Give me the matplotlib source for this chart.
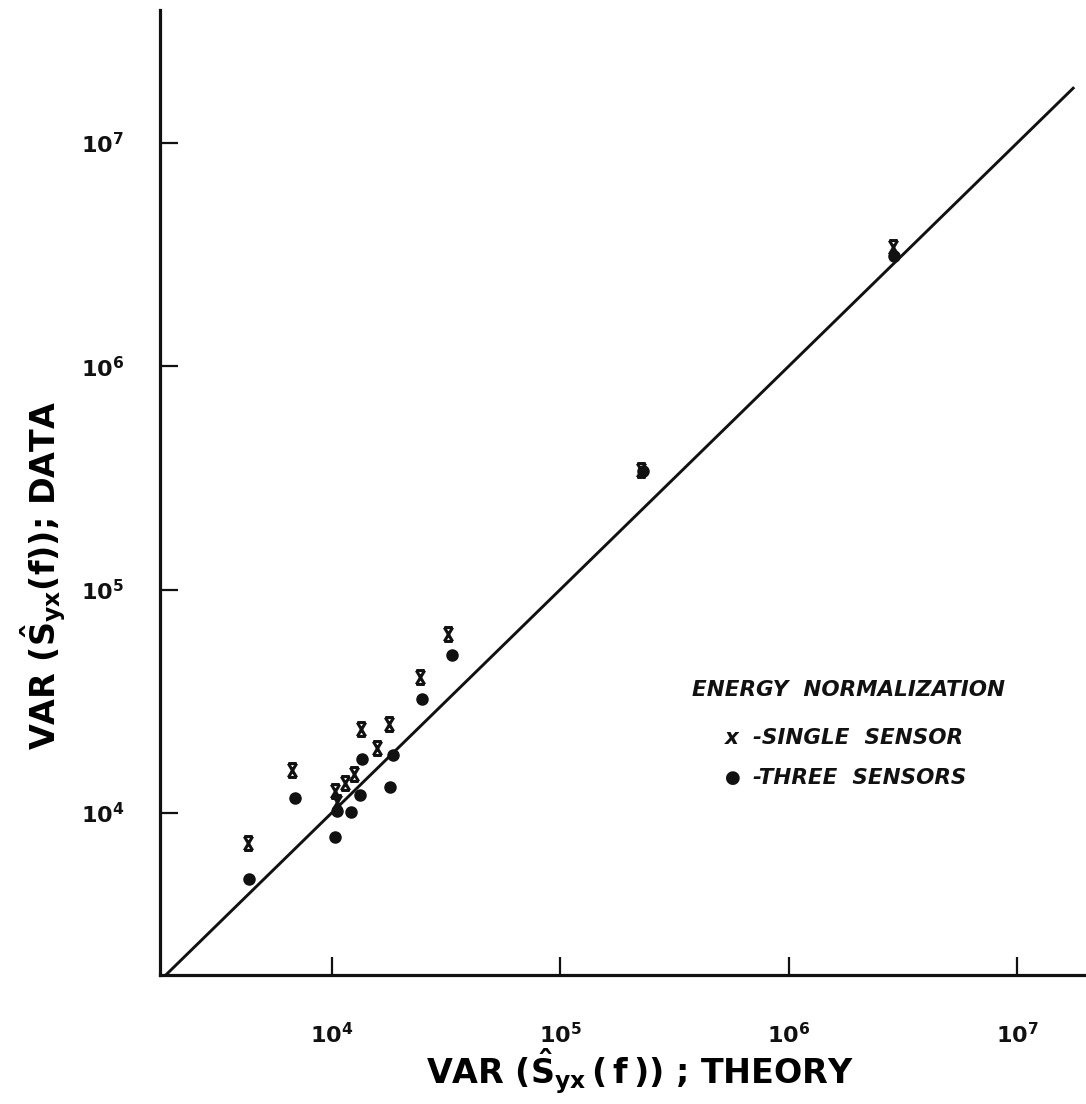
"""Log-log comparison of measured vs theoretical cross-spectrum variance."""

import matplotlib

matplotlib.use("Agg")
import matplotlib.pyplot as plt
from matplotlib.path import Path
from matplotlib.ticker import FixedLocator, FixedFormatter, NullLocator

# theory (x) vs data (y) variance, energy normalization
SINGLE_X = [4315, 6725, 10340, 10520, 11440, 12560, 13440, 15740, 17820, 24360, 32400, 227000, 2.88e6]
SINGLE_Y = [7310, 15580, 12550, 11240, 13670, 14950, 23700, 19610, 25040, 40520, 63130, 344000, 3.43e6]
THREE_X = [4345, 6930, 10300, 10520, 12110, 13300, 13530, 18500, 18060, 24770, 33530, 230000, 2.90e6]
THREE_Y = [5045, 11710, 7784, 10210, 10070, 12080, 17510, 18240, 13120, 32300, 51000, 340000, 3.12e6]
EQUALITY = [1.78e3, 1.78e7]

TICKS = [1e4, 1e5, 1e6, 1e7]
TICK_LABELS = [r"$\mathbf{10^{4}}$", r"$\mathbf{10^{5}}$", r"$\mathbf{10^{6}}$", r"$\mathbf{10^{7}}$"]

INK = "#111111"

plt.rcParams.update({
    "font.family": "DejaVu Sans",
    "font.weight": "bold",
    "mathtext.fontset": "dejavusans",
    "mathtext.default": "bf",
    "text.color": INK,
    "axes.edgecolor": INK,
})

# x drawn as a lettering-style cross with flat caps
cross = Path(
    [(-0.6, 1), (0.6, -1), (0.6, 1), (-0.6, -1), (-0.6, 1), (0.6, 1), (-0.6, -1), (0.6, -1)],
    [Path.MOVETO, Path.LINETO, Path.MOVETO, Path.LINETO,
     Path.MOVETO, Path.LINETO, Path.MOVETO, Path.LINETO],
)

fig = plt.figure(figsize=(10.86, 11.04), dpi=100)
ax = fig.add_axes([160 / 1086, 129 / 1104, 926 / 1086, 965 / 1104])
ax.set_xscale("log")
ax.set_yscale("log")
ax.set_xlim(10 ** 3.249, 10 ** 7.302)
ax.set_ylim(10 ** 3.2745, 10 ** 7.596)

ax.plot(EQUALITY, EQUALITY, color=INK, lw=2.1, solid_capstyle="butt", zorder=2)
ax.plot(THREE_X, THREE_Y, ls="none", marker="o", ms=8, color=INK, mec=INK, zorder=3)
ax.plot(SINGLE_X, SINGLE_Y, ls="none", marker=cross, ms=10, mew=2.2, color=INK, zorder=4)

for side in ("top", "right"):
    ax.spines[side].set_visible(False)
for side in ("left", "bottom"):
    ax.spines[side].set_linewidth(2.3)

ax.xaxis.set_major_locator(FixedLocator(TICKS))
ax.xaxis.set_major_formatter(FixedFormatter(TICK_LABELS))
ax.yaxis.set_major_locator(FixedLocator(TICKS))
ax.yaxis.set_major_formatter(FixedFormatter(TICK_LABELS))
ax.xaxis.set_minor_locator(NullLocator())
ax.yaxis.set_minor_locator(NullLocator())
ax.tick_params(axis="both", which="major", direction="in", length=13, width=1.6,
               colors=INK, labelsize=16)
ax.tick_params(axis="x", pad=34)
ax.tick_params(axis="y", pad=26)

ax.set_xlabel(r"VAR $(\hat{S}_{yx}\,(\,f\,))$ ; THEORY", fontsize=24, fontweight="bold")
ax.xaxis.set_label_coords(0.518, -0.074)
ax.set_ylabel(r"VAR $(\hat{S}_{yx}(f))$; DATA", fontsize=24, fontweight="bold")
ax.yaxis.set_label_coords(-0.099, 0.4145)

# hand-lettered key
key = dict(transform=ax.transAxes, fontsize=15.5, style="italic", fontweight="bold", va="center")
ax.text(0.575, 0.295, "ENERGY  NORMALIZATION", ha="left", **key)
ax.text(0.618, 0.246, "x", ha="center", **key)
ax.text(0.640, 0.246, "-SINGLE  SENSOR", ha="left", **key)
ax.text(0.619, 0.204, "\u25cf", transform=ax.transAxes, fontsize=13, va="center", ha="center")
ax.text(0.640, 0.204, "-THREE  SENSORS", ha="left", **key)

fig.savefig("out.png", dpi=100, facecolor="white")
